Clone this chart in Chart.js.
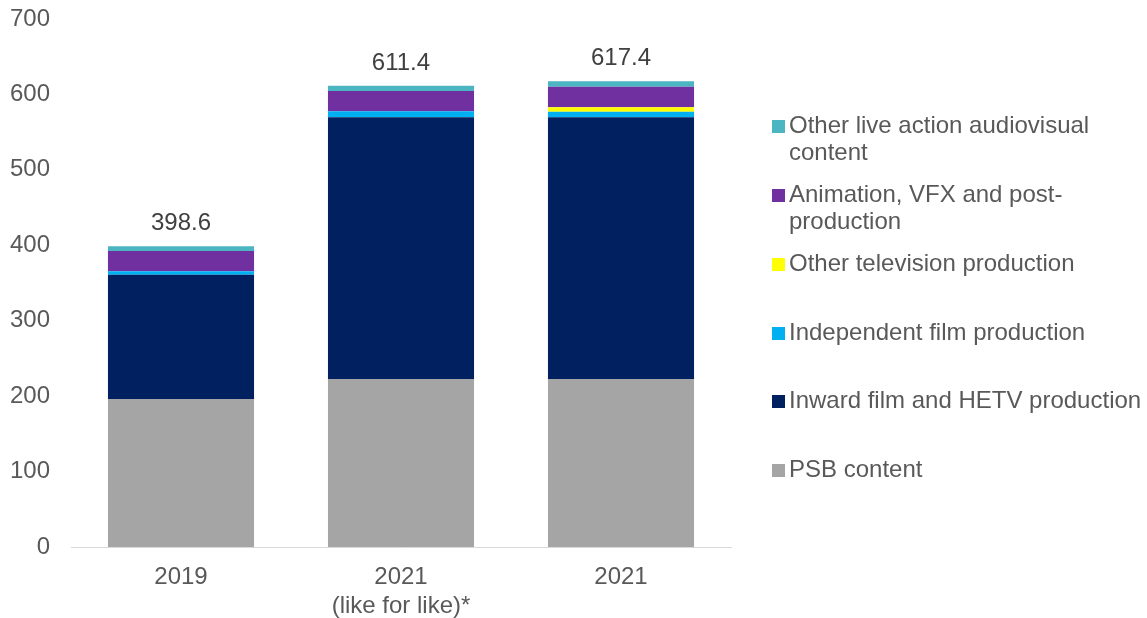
<!DOCTYPE html>
<html>
<head>
<meta charset="utf-8">
<script src="https://cdn.jsdelivr.net/npm/chart.js@4/dist/chart.umd.min.js"></script>
<style>
  html, body { margin: 0; padding: 0; background: #fff; }
  #wrap { width: 1147px; height: 618px; position: relative; }
</style>
</head>
<body>
<div id="wrap"><canvas id="c" width="1147" height="618"></canvas></div>
<script>
// Categories (two-line label for the like-for-like column)
const categories = [['2019'], ['2021', '(like for like)*'], ['2021']];

// Stacked values per sector, bottom to top
const psbContent      = [196.2, 222.7, 222.7];
const inwardFilmHetv  = [164.8, 347.0, 347.0];
const independentFilm = [4.5, 7.9, 7.3];
const otherTelevision = [0, 0, 6.0];
const animationVfx    = [26.9, 26.9, 27.2];
const otherLiveAction = [6.2, 6.9, 7.2];

// Totals printed above each column
const totals = [398.6, 611.4, 617.4];

const yTicks = [0, 100, 200, 300, 400, 500, 600, 700];

const FONT = "'Liberation Sans', Arial, sans-serif";
const TEXT = '#595959';
const FSIZE = 24;

const series = [
  { label: 'PSB content', data: psbContent, color: '#A5A5A5' },
  { label: 'Inward film and HETV production', data: inwardFilmHetv, color: '#002060' },
  { label: 'Independent film production', data: independentFilm, color: '#00B0F0' },
  { label: 'Other television production', data: otherTelevision, color: '#FFFF00' },
  { label: 'Animation, VFX and post-production', data: animationVfx, color: '#7030A0' },
  { label: 'Other live action audiovisual content', data: otherLiveAction, color: '#4BB5C1' }
];

// Legend entries, top to bottom, with their wrapped lines and vertical centres
const legendRows = [
  { idx: 5, lines: ['Other live action audiovisual', 'content'], y: 126 },
  { idx: 4, lines: ['Animation, VFX and post-', 'production'], y: 195 },
  { idx: 3, lines: ['Other television production'], y: 264 },
  { idx: 2, lines: ['Independent film production'], y: 333 },
  { idx: 1, lines: ['Inward film and HETV production'], y: 401 },
  { idx: 0, lines: ['PSB content'], y: 470 }
];

const totalsPlugin = {
  id: 'totals',
  afterDatasetsDraw(chart) {
    const { ctx, scales } = chart;
    ctx.save();
    ctx.font = FSIZE + 'px ' + FONT;
    ctx.fillStyle = '#404040';
    ctx.textAlign = 'center';
    ctx.textBaseline = 'alphabetic';
    totals.forEach((t, i) => {
      const x = scales.x.getPixelForValue(i);
      const y = scales.y.getPixelForValue(t);
      ctx.fillText(t.toFixed(1), x, y - 16);
    });
    ctx.restore();
  }
};

const sideLegend = {
  id: 'sideLegend',
  afterDraw(chart) {
    const { ctx } = chart;
    ctx.save();
    ctx.font = FSIZE + 'px ' + FONT;
    ctx.textBaseline = 'middle';
    ctx.textAlign = 'left';
    legendRows.forEach(row => {
      const ds = chart.data.datasets[row.idx];
      ctx.fillStyle = ds.backgroundColor;
      ctx.fillRect(772, row.y - 6, 13, 13);
      ctx.fillStyle = TEXT;
      row.lines.forEach((ln, k) => ctx.fillText(ln, 789, row.y + k * 27));
    });
    ctx.restore();
  }
};

new Chart(document.getElementById('c'), {
  type: 'bar',
  data: {
    labels: categories,
    datasets: series.map(s => ({
      label: s.label,
      data: s.data,
      backgroundColor: s.color,
      borderWidth: 0,
      barPercentage: 0.664,
      categoryPercentage: 1.0
    }))
  },
  options: {
    responsive: false,
    animation: false,
    devicePixelRatio: 1,
    layout: { padding: { top: 19, right: 416, bottom: 0, left: 0 } },
    plugins: {
      legend: { display: false },
      tooltip: { enabled: false }
    },
    scales: {
      x: {
        stacked: true,
        afterFit(axis) {
          axis.height = 618 - 547;
          axis.paddingLeft = 0;
          axis.paddingRight = 0;
        },
        grid: { display: false, drawTicks: false },
        border: { display: true, color: '#D9D9D9', width: 1 },
        ticks: { color: TEXT, font: { family: FONT, size: FSIZE }, padding: 16 }
      },
      y: {
        stacked: true,
        min: 0,
        max: 700,
        afterFit(axis) {
          axis.width = 71;
          axis.paddingTop = 0;
          axis.paddingBottom = 0;
        },
        afterBuildTicks(axis) { axis.ticks = yTicks.map(v => ({ value: v })); },
        grid: { display: false, drawTicks: false },
        border: { display: false },
        ticks: { color: TEXT, font: { family: FONT, size: FSIZE }, padding: 21 }
      }
    }
  },
  plugins: [totalsPlugin, sideLegend]
});
</script>
</body>
</html>
